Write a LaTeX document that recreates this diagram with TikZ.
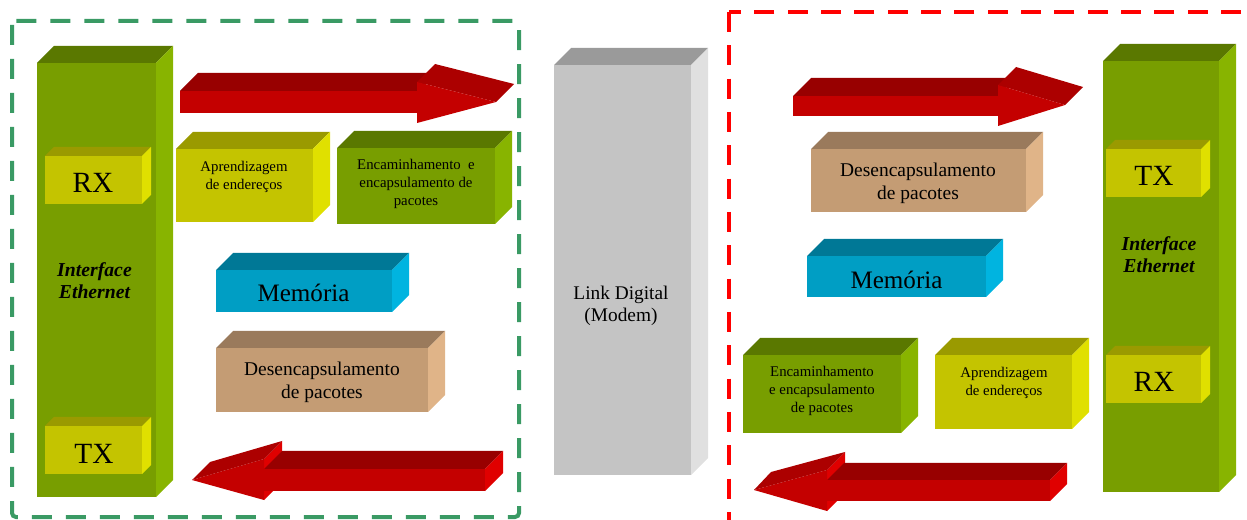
\documentclass[tikz,border=0pt]{standalone}
\usepackage{fontspec}
\setmainfont{Liberation Serif}

\definecolor{oliveF}{RGB}{120,158,0}
\definecolor{oliveT}{RGB}{90,120,0}
\definecolor{oliveS}{RGB}{136,180,0}
\definecolor{yelF}{RGB}{196,196,0}
\definecolor{yelT}{RGB}{154,154,0}
\definecolor{yelS}{RGB}{224,224,0}
\definecolor{bluF}{RGB}{0,158,196}
\definecolor{bluT}{RGB}{0,120,150}
\definecolor{bluS}{RGB}{0,180,224}
\definecolor{tanF}{RGB}{196,156,116}
\definecolor{tanT}{RGB}{154,122,92}
\definecolor{tanS}{RGB}{224,180,136}
\definecolor{grayF}{RGB}{196,196,196}
\definecolor{grayT}{RGB}{154,154,154}
\definecolor{grayS}{RGB}{224,224,224}
\definecolor{redF}{RGB}{196,0,0}
\definecolor{redT}{RGB}{152,0,0}
\definecolor{redH}{RGB}{172,0,0}
\definecolor{redS}{RGB}{224,0,0}
\definecolor{frameG}{RGB}{58,154,100}
\definecolor{frameR}{RGB}{255,0,0}

\tikzset{every picture/.style={line width=0.75pt},
  lbl small/.style={inner sep=0.75pt, align=center, font=\fontsize{11.1}{13.5}\selectfont},
  lbl mid/.style={inner sep=0.75pt, align=center, font=\fontsize{14.6}{17}\selectfont},
  lbl link/.style={inner sep=0.75pt, align=center, font=\fontsize{14.5}{16.5}\selectfont},
  lbl iface/.style={inner sep=0.75pt, align=center, font=\fontsize{14.8}{16.5}\selectfont\bfseries\itshape},
  lbl mem/.style={inner sep=0.75pt, font=\fontsize{18.8}{20}\selectfont},
  lbl rxtx/.style={inner sep=0.75pt, font=\fontsize{22}{24}\selectfont},
  frame left/.style={draw=frameG, line width=3pt, dash pattern=on 15pt off 10.5pt, rounded corners=3},
  frame right/.style={draw=frameR, line width=3pt, dash pattern=on 15pt off 10pt}
}

\begin{document}
\begin{tikzpicture}[x=0.75pt,y=0.75pt,yscale=-1,xscale=1]
\useasboundingbox (0,0) rectangle (1247,520);

%Shape: Cube [id:ethL] 
\fill [oliveT] (37,63) -- (54,46) -- (173,46) -- (156,63) -- cycle ;
\fill [oliveS] (156,63) -- (173,46) -- (173,480) -- (156,497) -- cycle ;
\fill [oliveF] (37,63) rectangle (156,497) ;
%Shape: Cube [id:rxL] 
\fill [yelT] (45,156) -- (54,147) -- (151,147) -- (142,156) -- cycle ;
\fill [yelS] (142,156) -- (151,147) -- (151,195) -- (142,204) -- cycle ;
\fill [yelF] (45,156) rectangle (142,204) ;
%Shape: Cube [id:txL] 
\fill [yelT] (45,426) -- (54,417) -- (151,417) -- (142,426) -- cycle ;
\fill [yelS] (142,426) -- (151,417) -- (151,465) -- (142,474) -- cycle ;
\fill [yelF] (45,426) rectangle (142,474) ;
%Shape: Cube [id:aprL] 
\fill [yelT] (176,149) -- (193,132) -- (330,132) -- (313,149) -- cycle ;
\fill [yelS] (313,149) -- (330,132) -- (330,205) -- (313,222) -- cycle ;
\fill [yelF] (176,149) rectangle (313,222) ;
%Shape: Cube [id:encL] 
\fill [oliveT] (337,148) -- (354,131) -- (512,131) -- (495,148) -- cycle ;
\fill [oliveS] (495,148) -- (512,131) -- (512,207) -- (495,224) -- cycle ;
\fill [oliveF] (337,148) rectangle (495,224) ;
%Shape: Cube [id:memL] 
\fill [bluT] (216,270) -- (233,253) -- (409,253) -- (392,270) -- cycle ;
\fill [bluS] (392,270) -- (409,253) -- (409,295) -- (392,312) -- cycle ;
\fill [bluF] (216,270) rectangle (392,312) ;
%Shape: Cube [id:desL] 
\fill [tanT] (216,348) -- (233,331) -- (445,331) -- (428,348) -- cycle ;
\fill [tanS] (428,348) -- (445,331) -- (445,395) -- (428,412) -- cycle ;
\fill [tanF] (216,348) rectangle (428,412) ;
%Shape: Cube [id:link] 
\fill [grayT] (554,65) -- (571,48) -- (708,48) -- (691,65) -- cycle ;
\fill [grayS] (691,65) -- (708,48) -- (708,458) -- (691,475) -- cycle ;
\fill [grayF] (554,65) rectangle (691,475) ;
%Shape: Cube [id:ethR] 
\fill [oliveT] (1103,61) -- (1120,44) -- (1236,44) -- (1219,61) -- cycle ;
\fill [oliveS] (1219,61) -- (1236,44) -- (1236,475) -- (1219,492) -- cycle ;
\fill [oliveF] (1103,61) rectangle (1219,492) ;
%Shape: Cube [id:txR] 
\fill [yelT] (1106,149) -- (1115,140) -- (1210,140) -- (1201,149) -- cycle ;
\fill [yelS] (1201,149) -- (1210,140) -- (1210,188) -- (1201,197) -- cycle ;
\fill [yelF] (1106,149) rectangle (1201,197) ;
%Shape: Cube [id:rxR] 
\fill [yelT] (1106,355) -- (1115,346) -- (1210,346) -- (1201,355) -- cycle ;
\fill [yelS] (1201,355) -- (1210,346) -- (1210,394) -- (1201,403) -- cycle ;
\fill [yelF] (1106,355) rectangle (1201,403) ;
%Shape: Cube [id:desR] 
\fill [tanT] (811,149) -- (828,132) -- (1043,132) -- (1026,149) -- cycle ;
\fill [tanS] (1026,149) -- (1043,132) -- (1043,195) -- (1026,212) -- cycle ;
\fill [tanF] (811,149) rectangle (1026,212) ;
%Shape: Cube [id:memR] 
\fill [bluT] (807,256) -- (824,239) -- (1003,239) -- (986,256) -- cycle ;
\fill [bluS] (986,256) -- (1003,239) -- (1003,280) -- (986,297) -- cycle ;
\fill [bluF] (807,256) rectangle (986,297) ;
%Shape: Cube [id:encR] 
\fill [oliveT] (743,355) -- (760,338) -- (918,338) -- (901,355) -- cycle ;
\fill [oliveS] (901,355) -- (918,338) -- (918,416) -- (901,433) -- cycle ;
\fill [oliveF] (743,355) rectangle (901,433) ;
%Shape: Cube [id:aprR] 
\fill [yelT] (935,355) -- (952,338) -- (1089,338) -- (1072,355) -- cycle ;
\fill [yelS] (1072,355) -- (1089,338) -- (1089,412) -- (1072,429) -- cycle ;
\fill [yelF] (935,355) rectangle (1072,429) ;

%Shape: Right Arrow [id:arrTL] 
\fill [redT] (180,91) -- (198,73) -- (435,73) -- (417,91) -- cycle ;
\fill [redH] (417,82) -- (435,64) -- (514,84) -- (496,102) -- cycle ;
\fill [redF] (180,91) rectangle (417,113) ;
\fill [redF] (417,82) -- (496,102) -- (417,123) -- cycle ;
%Shape: Right Arrow [id:arrTR] 
\fill [redT] (793,96) -- (811,78) -- (1016,78) -- (998,96) -- cycle ;
\fill [redH] (998,85) -- (1016,67) -- (1083,87) -- (1065,105) -- cycle ;
\fill [redF] (793,96) rectangle (998,116) ;
\fill [redF] (998,85) -- (1065,105) -- (998,126) -- cycle ;
%Shape: Left Arrow [id:arrBL] 
\fill [redS] (264,459) -- (282,441) -- (282,482) -- (264,500) -- cycle ;
\fill [redT] (264,469) -- (282,451) -- (503,451) -- (485,469) -- cycle ;
\fill [redS] (485,469) -- (503,451) -- (503,473) -- (485,491) -- cycle ;
\fill [redF] (264,469) rectangle (485,491) ;
\fill [redF] (264,459) -- (192,480) -- (264,500) -- cycle ;
\fill [redH] (264,459) -- (282,441) -- (210,462) -- (192,480) -- cycle ;
%Shape: Left Arrow [id:arrBR] 
\fill [redS] (827,470) -- (845,452) -- (845,493) -- (827,511) -- cycle ;
\fill [redT] (827,480) -- (844,463) -- (1067,463) -- (1050,480) -- cycle ;
\fill [redS] (1050,480) -- (1067,463) -- (1067,484) -- (1050,501) -- cycle ;
\fill [redF] (827,480) rectangle (1050,501) ;
\fill [redF] (827,470) -- (754,490) -- (827,511) -- cycle ;
\fill [redH] (827,470) -- (845,452) -- (771,472) -- (754,490) -- cycle ;

%Shape: Rectangle [id:frameL] 
\draw [frame left] (12,21) rectangle (519,517) ;
%Shape: Rectangle [id:frameR] 
\draw [frame right] (729,12) rectangle (1262,535) ;

% Text Node
\node (rxLtxt) at (93,182.5) [lbl rxtx] {RX};
% Text Node
\node (txLtxt) at (94,453.5) [lbl rxtx] {TX};
% Text Node
\node (ethLtxt) at (94.5,281) [lbl iface] {Interface\\Ethernet};
% Text Node
\node (aprLtxt) at (244,176.5) [lbl small] {Aprendizagem\\de endereços};
% Text Node
\node (encLtxt) at (416,184) [lbl small] {Encaminhamento~ e\\encapsulamento de\\pacotes};
% Text Node
\node (memLtxt) at (303.5,293) [lbl mem] {Memória};
% Text Node
\node (desLtxt) at (322,382) [lbl mid] {Desencapsulamento\\de pacotes};
% Text Node
\node (linktxt) at (621,306) [lbl link] {Link Digital\\(Modem)};
% Text Node
\node (txRtxt) at (1154,175.5) [lbl rxtx] {TX};
% Text Node
\node (rxRtxt) at (1154,382) [lbl rxtx] {RX};
% Text Node
\node (ethRtxt) at (1159,255) [lbl iface] {Interface\\Ethernet};
% Text Node
\node (desRtxt) at (918,183.5) [lbl mid] {Desencapsulamento\\de pacotes};
% Text Node
\node (memRtxt) at (896.5,280) [lbl mem] {Memória};
% Text Node
\node (encRtxt) at (822,390.5) [lbl small] {Encaminhamento\\e encapsulamento\\de pacotes};
% Text Node
\node (aprRtxt) at (1004,382.5) [lbl small] {Aprendizagem\\de endereços};

\end{tikzpicture}
\end{document}
